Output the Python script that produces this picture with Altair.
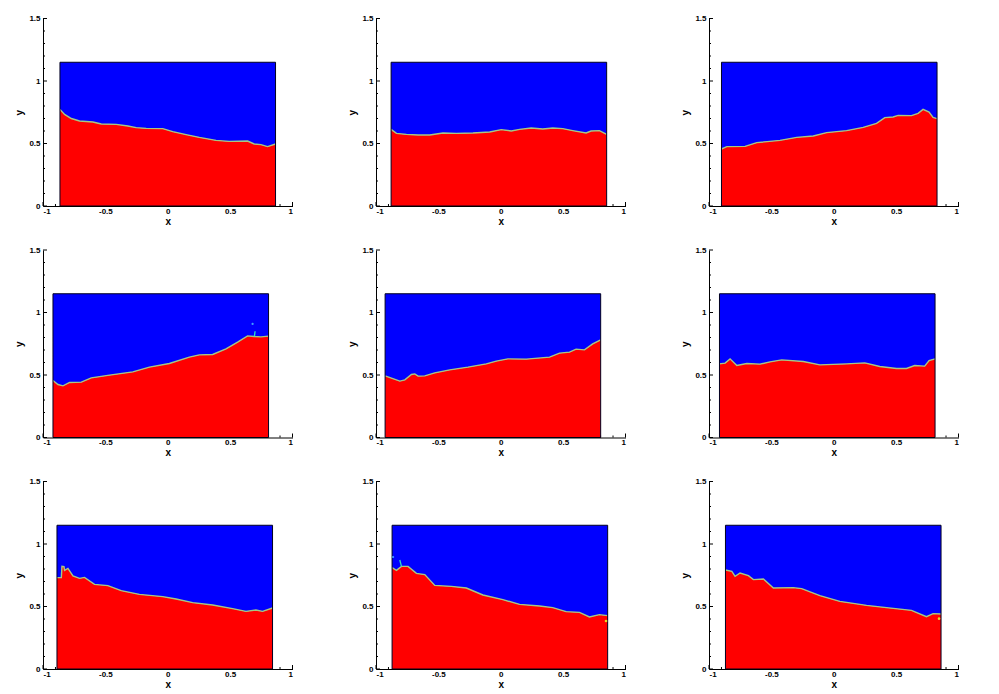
import pandas as pd
import altair as alt

panel1_x = [-0.864, -0.827, -0.773, -0.707, -0.60, -0.533, -0.413, -0.32, -0.253, -0.173, -0.04, 0.04, 0.147, 0.253, 0.387, 0.493, 0.64, 0.693, 0.747, 0.80, 0.864]
panel1_y = [0.773, 0.733, 0.70, 0.68, 0.672, 0.656, 0.653, 0.64, 0.627, 0.621, 0.619, 0.595, 0.571, 0.549, 0.525, 0.517, 0.52, 0.496, 0.491, 0.475, 0.496]
panel2_x = [-0.879, -0.836, -0.756, -0.663, -0.569, -0.463, -0.356, -0.223, -0.089, 0.004, 0.084, 0.151, 0.244, 0.337, 0.417, 0.497, 0.577, 0.684, 0.724, 0.791, 0.849]
panel2_y = [0.613, 0.581, 0.573, 0.568, 0.568, 0.584, 0.581, 0.584, 0.592, 0.611, 0.60, 0.613, 0.624, 0.616, 0.624, 0.619, 0.603, 0.584, 0.60, 0.603, 0.573]
panel3_x = [-0.90, -0.857, -0.711, -0.617, -0.431, -0.297, -0.164, -0.057, 0.103, 0.236, 0.343, 0.409, 0.476, 0.516, 0.623, 0.676, 0.716, 0.764, 0.796, 0.828]
panel3_y = [0.456, 0.475, 0.477, 0.507, 0.525, 0.549, 0.56, 0.587, 0.603, 0.629, 0.661, 0.707, 0.712, 0.725, 0.723, 0.741, 0.773, 0.752, 0.709, 0.699]
panel4_x = [-0.92, -0.88, -0.84, -0.787, -0.693, -0.613, -0.467, -0.28, -0.147, 0.013, 0.173, 0.253, 0.36, 0.467, 0.56, 0.64, 0.693, 0.747, 0.808]
panel4_y = [0.456, 0.424, 0.413, 0.44, 0.443, 0.477, 0.499, 0.525, 0.563, 0.592, 0.643, 0.661, 0.664, 0.709, 0.763, 0.813, 0.808, 0.805, 0.811]
panel5_x = [-0.927, -0.876, -0.809, -0.769, -0.716, -0.689, -0.663, -0.609, -0.529, -0.409, -0.263, -0.116, -0.036, 0.057, 0.204, 0.391, 0.471, 0.551, 0.604, 0.671, 0.737, 0.801]
panel5_y = [0.493, 0.475, 0.451, 0.461, 0.504, 0.509, 0.491, 0.493, 0.517, 0.541, 0.563, 0.589, 0.611, 0.629, 0.627, 0.643, 0.675, 0.683, 0.707, 0.701, 0.749, 0.781]
panel6_x = [-0.916, -0.871, -0.831, -0.777, -0.697, -0.591, -0.511, -0.417, -0.244, -0.111, 0.103, 0.249, 0.369, 0.503, 0.583, 0.649, 0.729, 0.764, 0.812]
panel6_y = [0.589, 0.595, 0.629, 0.576, 0.592, 0.587, 0.605, 0.621, 0.608, 0.581, 0.589, 0.597, 0.568, 0.552, 0.552, 0.576, 0.571, 0.616, 0.629]
panel7_x = [-0.888, -0.853, -0.848, -0.832, -0.827, -0.80, -0.76, -0.707, -0.667, -0.587, -0.48, -0.373, -0.227, -0.04, 0.067, 0.2, 0.36, 0.52, 0.627, 0.707, 0.76, 0.84]
panel7_y = [0.731, 0.731, 0.821, 0.819, 0.789, 0.805, 0.744, 0.725, 0.733, 0.677, 0.667, 0.627, 0.597, 0.579, 0.56, 0.531, 0.512, 0.483, 0.461, 0.472, 0.461, 0.488]
panel8_x = [-0.871, -0.836, -0.796, -0.743, -0.676, -0.609, -0.529, -0.396, -0.276, -0.143, 0.017, 0.151, 0.311, 0.417, 0.524, 0.631, 0.711, 0.791, 0.857]
panel8_y = [0.811, 0.789, 0.821, 0.821, 0.765, 0.755, 0.669, 0.661, 0.648, 0.592, 0.555, 0.517, 0.504, 0.491, 0.459, 0.453, 0.416, 0.435, 0.427]
panel9_x = [-0.868, -0.817, -0.791, -0.751, -0.684, -0.644, -0.564, -0.484, -0.324, -0.257, -0.111, 0.049, 0.263, 0.423, 0.623, 0.743, 0.796, 0.86]
panel9_y = [0.792, 0.781, 0.741, 0.768, 0.747, 0.715, 0.72, 0.648, 0.651, 0.643, 0.587, 0.541, 0.509, 0.491, 0.469, 0.419, 0.443, 0.44]

interfaces = [(panel1_x, panel1_y), (panel2_x, panel2_y), (panel3_x, panel3_y),
              (panel4_x, panel4_y), (panel5_x, panel5_y), (panel6_x, panel6_y),
              (panel7_x, panel7_y), (panel8_x, panel8_y), (panel9_x, panel9_y)]

# thin filaments and droplets above the interface
spike_panel = [3, 3, 7, 7]
spike_x = [0.695, 0.70, -0.796, -0.809]
spike_y = [0.81, 0.85, 0.821, 0.872]
drop_panel = [3, 7]
drop_x = [0.68, -0.863]
drop_y = [0.909, 0.896]
spot_panel = [7, 8]
spot_x = [0.844, 0.844]
spot_y = [0.384, 0.403]

x_major = [-1, -0.5, 0, 0.5, 1]
x_minor = [-0.9, -0.8, -0.7, -0.6, -0.4, -0.3, -0.2, -0.1, 0.1, 0.2, 0.3, 0.4, 0.6, 0.7, 0.8, 0.9]
y_major = [0, 0.5, 1, 1.5]
y_minor = [0.1, 0.2, 0.3, 0.4, 0.6, 0.7, 0.8, 0.9, 1.1, 1.2, 1.3, 1.4]
y_top = 1.15

W = 249.5
H = 187.5
FONT = 'Liberation Sans'

x_enc = alt.X('x:Q', title='x', scale=alt.Scale(domain=[-1, 1], nice=False), axis=alt.Axis(
    values=x_major, labelExpr="'' + datum.value", ticks=False, grid=False, domainColor='black',
    labelColor='black', labelFont=FONT, labelFontSize=8, labelFontWeight='bold', labelPadding=1,
    titleColor='black', titleFont=FONT, titleFontSize=10, titleFontWeight='bold', titlePadding=1, zindex=1))
y_enc = alt.Y('y:Q', title='y', scale=alt.Scale(domain=[0, 1.5], nice=False), axis=alt.Axis(
    values=y_major, labelExpr="'' + datum.value", ticks=False, grid=False, domainColor='black',
    labelColor='black', labelFont=FONT, labelFontSize=8, labelFontWeight='bold', labelPadding=3,
    titleColor='black', titleFont=FONT, titleFontSize=10, titleFontWeight='bold', titlePadding=4, zindex=1))


def x_ticks(values, size):
    return alt.Chart(pd.DataFrame({'x': values})).mark_rule(color='black').encode(
        x_enc, y=alt.value(H), y2=alt.value(H - size))


def y_ticks(values, size):
    return alt.Chart(pd.DataFrame({'y': values})).mark_rule(color='black').encode(
        y_enc, x=alt.value(0), x2=alt.value(size))


def panel(i):
    xs, ys = interfaces[i]
    df = pd.DataFrame({'x': xs, 'y': ys})

    blue = alt.Chart(df).mark_area(color='#0000ff', opacity=1).encode(x_enc, y_enc, y2=alt.datum(y_top))
    red = alt.Chart(df).mark_area(color='#ff0000', opacity=1).encode(x_enc, y_enc, y2=alt.datum(0))
    line = alt.Chart(df).mark_line(color='#a4c884', strokeWidth=1.4).encode(x_enc, y_enc)
    outline = alt.Chart(pd.DataFrame({'x': [xs[0]], 'b': [xs[-1]], 'y': [0], 'hi': [y_top]})).mark_rect(
        fillOpacity=0, stroke='#000020', strokeWidth=1).encode(x_enc, alt.X2('b:Q'), y_enc, alt.Y2('hi:Q'))

    layers = [x_ticks(x_major, 4), x_ticks(x_minor, 2), y_ticks(y_major, 4), y_ticks(y_minor, 2),
              blue, red, line, outline]

    sx = [a for p, a in zip(spike_panel, spike_x) if p == i]
    sy = [a for p, a in zip(spike_panel, spike_y) if p == i]
    if sx:
        layers.append(alt.Chart(pd.DataFrame({'x': sx, 'y': sy})).mark_line(color='#30e0c0', strokeWidth=1.3).encode(x_enc, y_enc))
    dx = [a for p, a in zip(drop_panel, drop_x) if p == i]
    dy = [a for p, a in zip(drop_panel, drop_y) if p == i]
    if dx:
        layers.append(alt.Chart(pd.DataFrame({'x': dx, 'y': dy})).mark_point(filled=True, color='#40a0ff', size=5, opacity=1).encode(x_enc, y_enc))
    px = [a for p, a in zip(spot_panel, spot_x) if p == i]
    py = [a for p, a in zip(spot_panel, spot_y) if p == i]
    if px:
        layers.append(alt.Chart(pd.DataFrame({'x': px, 'y': py})).mark_point(filled=True, color='#e8d820', size=7, opacity=1).encode(x_enc, y_enc))

    return alt.layer(*layers).properties(width=W, height=H)


chart = alt.concat(*[panel(i) for i in range(9)], columns=3, spacing={'row': 19.5, 'column': 54}).properties(
    padding={'left': 6, 'top': 6.5, 'right': 0, 'bottom': 0},
    background='white',
).configure_view(strokeWidth=0)

chart.save("out.html", embed_options={"renderer": "svg", "actions": False})
